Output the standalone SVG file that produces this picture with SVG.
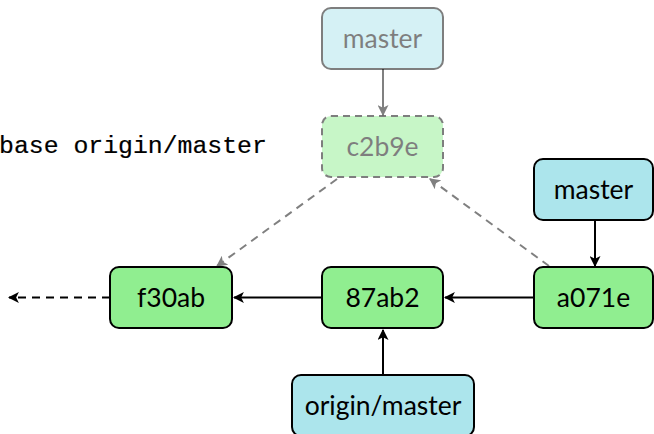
<svg xmlns="http://www.w3.org/2000/svg" width="654" height="434" viewBox="0 0 654 434">
  <style>
    .box { stroke: #000; stroke-width: 2; }
    .commit { fill: #90ee90; }
    .ref { fill: #ace5ec; }
    .label { font-family: Lato, "Open Sans", "DejaVu Sans", sans-serif; font-size: 26.5px; fill: #000; text-anchor: middle; }
    .cmd { font-family: "Liberation Mono", "DejaVu Sans Mono", monospace; font-size: 24.8px; fill: #000; stroke: #000; stroke-width: 0.2; }
    .edge { stroke: #000; stroke-width: 2; fill: none; }
    .grey-edge { stroke: #808080; stroke-width: 2; fill: none; }
    .ghost-edge { stroke: #808080; stroke-width: 2; fill: none; stroke-dasharray: 8 6; }
    .faded { opacity: 0.5; }
  </style>
  <defs>
    <marker id="arrow" viewBox="0 0 10 10" refX="9" refY="5" markerWidth="5.5" markerHeight="5.5" markerUnits="strokeWidth" orient="auto">
      <path d="M0,0 L10,5 L0,10 L2.5,5 z" fill="#000"/>
    </marker>
    <marker id="arrow-grey" viewBox="0 0 10 10" refX="9" refY="5" markerWidth="5.5" markerHeight="5.5" markerUnits="strokeWidth" orient="auto">
      <path d="M0,0 L10,5 L0,10 L2.5,5 z" fill="#808080"/>
    </marker>
  </defs>

  <!-- command being run -->
  <text class="cmd" x="-1" y="153">base origin/master</text>

  <!-- connectors -->
  <g id="edges">
    <line class="grey-edge" x1="383" y1="69" x2="383" y2="115" marker-end="url(#arrow-grey)"/>
    <line class="ghost-edge" x1="337" y1="179" x2="217" y2="266" marker-end="url(#arrow-grey)"/>
    <line class="ghost-edge" x1="549" y1="266" x2="430" y2="179" marker-end="url(#arrow-grey)"/>
    <line class="edge" x1="595" y1="220" x2="595" y2="266" marker-end="url(#arrow)"/>
    <line class="edge" x1="534" y1="297.5" x2="445" y2="297.5" marker-end="url(#arrow)"/>
    <line class="edge" x1="322" y1="297.5" x2="234" y2="297.5" marker-end="url(#arrow)"/>
    <line class="edge" x1="383" y1="375" x2="383" y2="330" marker-end="url(#arrow)"/>
    <line class="edge" x1="110" y1="297.5" x2="9" y2="297.5" stroke-dasharray="8 6" marker-end="url(#arrow)"/>
  </g>

  <!-- branch state before the rebase -->
  <g id="master-old" class="faded">
    <rect class="box ref" x="322" y="8" width="121" height="61" rx="9"/>
    <text class="label" x="382.5" y="47.5">master</text>
  </g>
  <g id="c2b9e" class="faded">
    <rect class="box commit" x="322" y="116" width="121" height="61" rx="9" stroke-dasharray="7 5"/>
    <text class="label" x="382.5" y="156">c2b9e</text>
  </g>

  <!-- commits -->
  <g id="f30ab">
    <rect class="box commit" x="110" y="267" width="122" height="61" rx="9"/>
    <text class="label" x="171" y="307">f30ab</text>
  </g>
  <g id="87ab2">
    <rect class="box commit" x="322" y="267" width="121" height="61" rx="9"/>
    <text class="label" x="382.5" y="307">87ab2</text>
  </g>
  <g id="a071e">
    <rect class="box commit" x="534" y="267" width="119" height="61" rx="9"/>
    <text class="label" x="593.5" y="307">a071e</text>
  </g>

  <!-- references -->
  <g id="master">
    <rect class="box ref" x="534" y="159" width="119" height="61" rx="9"/>
    <text class="label" x="593.5" y="199">master</text>
  </g>
  <g id="origin-master">
    <rect class="box ref" x="292" y="375" width="182" height="61" rx="9"/>
    <text class="label" x="383" y="414.5">origin/master</text>
  </g>
</svg>
